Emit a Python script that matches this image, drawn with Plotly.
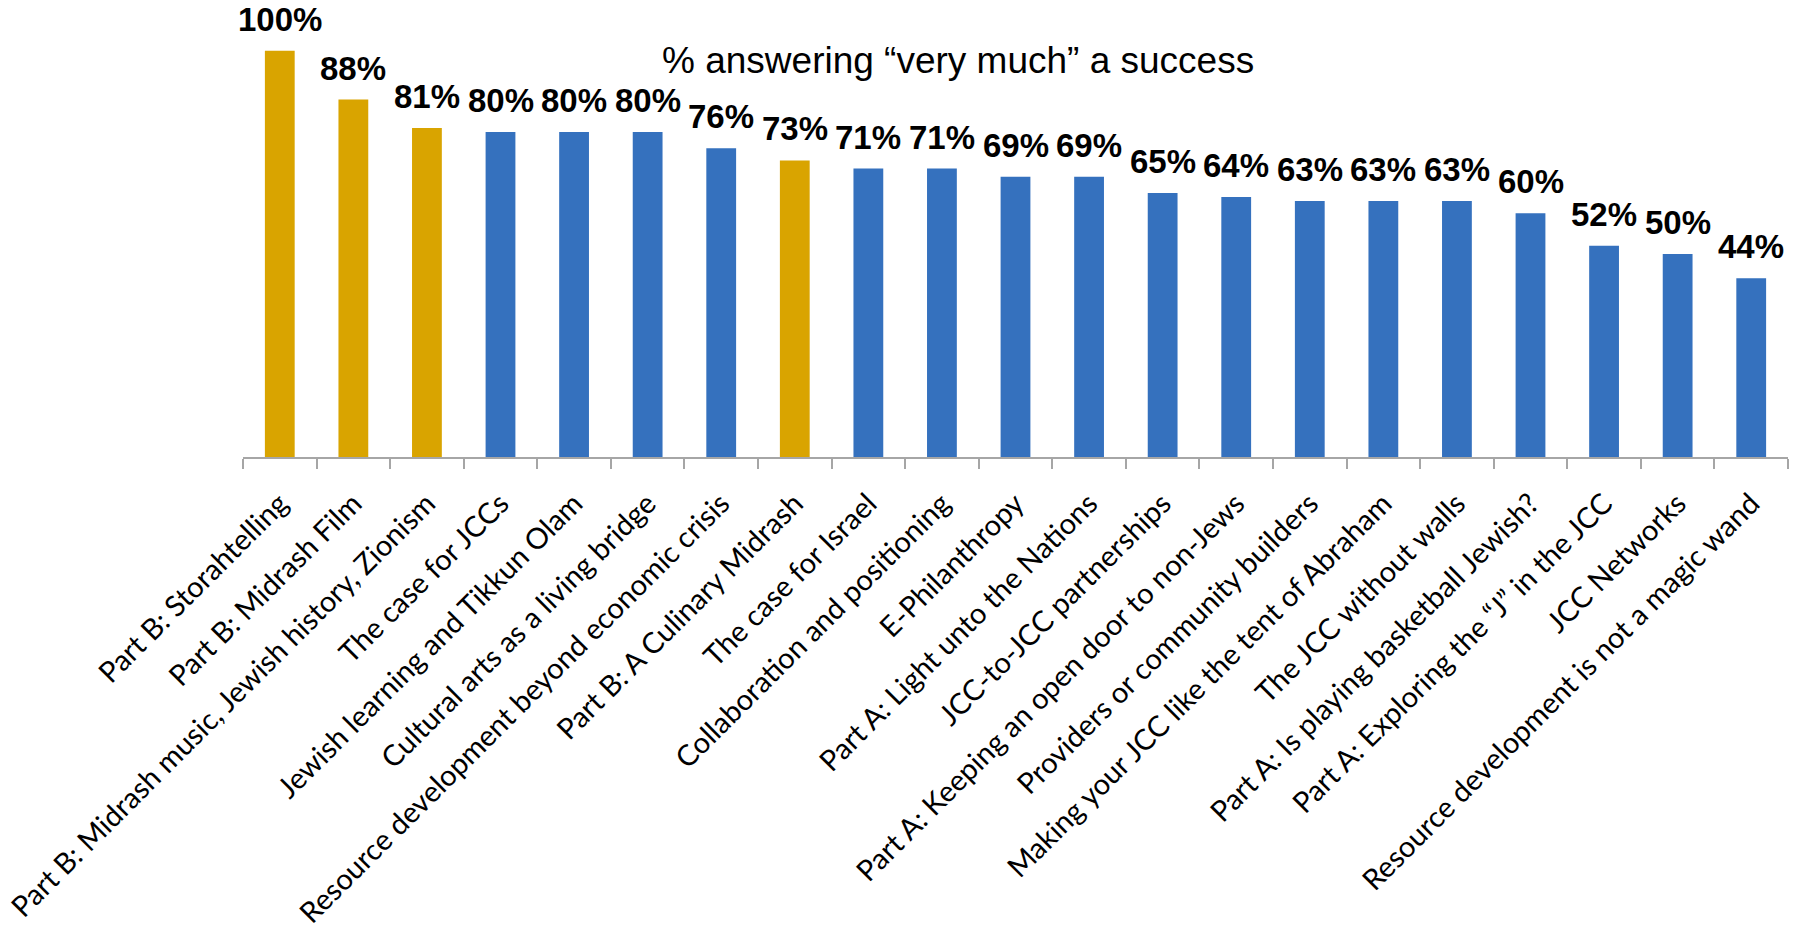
import plotly.graph_objects as go

categories = [
    "Part B: Storahtelling",
    "Part B: Midrash Film",
    "Part B: Midrash music, Jewish history, Zionism",
    "The case for JCCs",
    "Jewish learning and Tikkun Olam",
    "Cultural arts as a living bridge",
    "Resource development beyond economic crisis",
    "Part B: A Culinary Midrash",
    "The case for Israel",
    "Collaboration and positioning",
    "E-Philanthropy",
    "Part A: Light unto the Nations",
    "JCC-to-JCC partnerships",
    "Part A: Keeping an open door to non-Jews",
    "Providers or community builders",
    "Making your JCC like the tent of Abraham",
    "The JCC without walls",
    "Part A: Is playing basketball Jewish?",
    "Part A: Exploring the \u201cJ\u201d in the JCC",
    "JCC Networks",
    "Resource development is not a magic wand",
]
values = [100, 88, 81, 80, 80, 80, 76, 73, 71, 71, 69, 69, 65, 64, 63, 63, 63, 60, 52, 50, 44]
groups = ["B", "B", "B", "O", "O", "O", "O", "B", "O", "O", "O", "O", "O", "O", "O", "O", "O", "O", "O", "O", "O"]
title_text = "% answering \u201cvery much\u201d a success"

GOLD = "#D9A400"
BLUE = "#3571BE"
colors = [GOLD if g == "B" else BLUE for g in groups]

W, H = 1799, 932
ML, MR, MT, MB = 243, 11, 0, 475
plot_w = W - ML - MR
plot_h = H - MT - MB

fig = go.Figure()
fig.add_trace(go.Bar(
    x=categories,
    y=values,
    marker=dict(color=colors, line=dict(width=0)),
    hoverinfo="x+y",
))

for c, v in zip(categories, values):
    fig.add_annotation(
        x=c, y=v, text=f"<b>{v}%</b>", showarrow=False,
        yanchor="bottom", yshift=11,
        font=dict(family="Liberation Sans, Arial, sans-serif", size=33, color="#000000"),
    )

fig.add_annotation(
    x=(958 - ML) / plot_w, y=1 - (61 - MT) / plot_h, xref="paper", yref="paper",
    xanchor="center", yanchor="middle",
    text=title_text, showarrow=False,
    font=dict(family="Liberation Sans, Arial, sans-serif", size=37, color="#000000"),
)

fig.update_layout(
    width=W, height=H,
    margin=dict(l=ML, r=MR, t=MT, b=MB, autoexpand=False),
    paper_bgcolor="white", plot_bgcolor="white",
    bargap=0.595,
    showlegend=False,
    xaxis=dict(
        range=[-0.5, len(categories) - 0.5],
        showline=True, linecolor="#A6A6A6", linewidth=2,
        ticks="outside", tickson="boundaries", ticklen=10, tickcolor="#A6A6A6", tickwidth=2,
        tickangle=-45, ticklabelstandoff=16,
        tickfont=dict(family="Lato, Open Sans, sans-serif", size=29, color="#000000"),
        automargin=False, showgrid=False, zeroline=False,
    ),
    yaxis=dict(
        range=[0, 112.5], visible=False, showgrid=False, zeroline=False,
    ),
)

fig.write_html(
    "out.html",
    config={"displayModeBar": False},
    post_script="document.body.style.margin='0';document.body.style.overflow='hidden';",
)
